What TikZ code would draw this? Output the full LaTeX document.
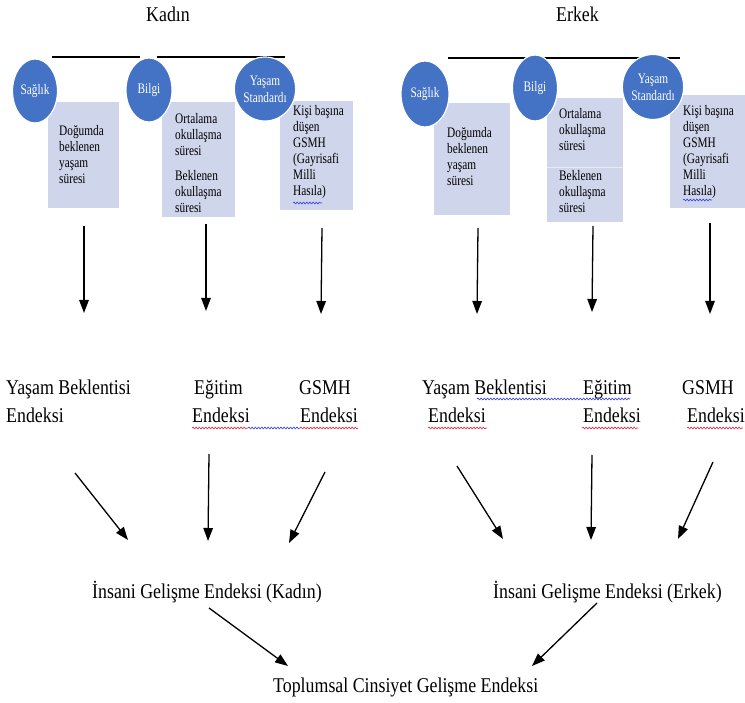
\documentclass[tikz,border=0pt]{standalone}
\usepackage{fontspec}
\setmainfont{Liberation Serif}
\newfontfamily\bigf[FakeStretch=0.85]{Liberation Serif}
\newfontfamily\smallf[FakeStretch=0.78]{Liberation Serif}
\usetikzlibrary{arrows.meta,shapes.geometric,decorations.pathmorphing}
\definecolor{circblue}{RGB}{68,114,196}
\definecolor{boxfill}{RGB}{207,213,234}
\definecolor{sqred}{RGB}{220,40,60}
\definecolor{sqblue}{RGB}{50,60,230}
\begin{document}
\begin{tikzpicture}[x=1pt,y=-1pt,
  circ/.style={ellipse,fill=circblue,draw=white,line width=1.2pt,inner sep=0pt,
     text=white,align=center,font=\smallf\fontsize{14.5}{17}\selectfont},
  boxbg/.style={fill=boxfill,draw=none,inner sep=0pt,anchor=north west},
  boxtext/.style={anchor=north west,inner sep=0pt,align=left,
     font=\smallf\fontsize{14.5}{16}\selectfont},
  bigtext/.style={anchor=base west,inner sep=0pt,font=\bigf\fontsize{21}{27}\selectfont},
  topline/.style={line width=1.2pt},
  arr/.style={line width=1.3pt,-{Triangle[length=13pt,width=9.5pt]}},
  sqr/.style={draw=sqred,line width=0.6pt,decorate,decoration={snake,amplitude=0.9pt,segment length=3.2pt}},
  sqb/.style={draw=sqblue,line width=0.6pt,decorate,decoration={snake,amplitude=0.9pt,segment length=3.2pt}}
]
\useasboundingbox (0,0) rectangle (745,703);

% titles
\node[bigtext] (tk) at (146,22) {Kadın};
\node[bigtext] (te) at (556,22) {Erkek};

% top lines
\coordinate (l1a) at (52,57); \coordinate (l1b) at (140,57);
\coordinate (l2a) at (157,57); \coordinate (l2b) at (285,57);
\coordinate (l3a) at (448,58); \coordinate (l3b) at (680,58);
\draw[topline] (l1a) -- (l1b);
\draw[topline] (l2a) -- (l2b);
\draw[topline] (l3a) -- (l3b);

% ---------- Kadın boxes ----------
\node[boxbg,minimum width=71pt,minimum height=106pt] (kb1) at (48,102) {};
\node[boxbg,minimum width=73pt,minimum height=115pt] (kb2) at (162,102) {};
\node[boxbg,minimum width=73pt,minimum height=109pt] (kb3) at (280,101) {};
\node[boxtext] (kt1) at (59,125) {Doğumda\\beklenen\\yaşam\\süresi};
\node[boxtext] (kt2) at (175,113) {Ortalama\\okullaşma\\süresi};
\node[boxtext] (kt2b) at (175,170) {Beklenen\\okullaşma\\süresi};
\node[boxtext] (kt3) at (293,105) {Kişi başına\\düşen\\GSMH\\(Gayrisafi\\Milli\\Hasıla)};

% Kadın circles
\node[circ,minimum width=45pt,minimum height=64pt] (kc1) at (35,91) {Sağlık};
\node[circ,minimum width=46pt,minimum height=64pt] (kc2) at (149,90) {Bilgi};
\node[circ,minimum width=60pt,minimum height=64pt] (kc3) at (265,89) {Yaşam\\Standardı};

% ---------- Erkek boxes ----------
\node[boxbg,minimum width=76pt,minimum height=112pt] (eb1) at (434,103) {};
\node[boxbg,minimum width=76pt,minimum height=69pt] (eb2) at (547,98) {};
\node[boxbg,minimum width=76pt,minimum height=55pt] (eb2b) at (547,167) {};
\draw[white!50!boxfill,line width=0.5pt] (eb2.south west) -- (eb2.south east);
\node[boxbg,minimum width=75pt,minimum height=113pt] (eb3) at (670,95) {};
\node[boxtext] (et1) at (447,127) {Doğumda\\beklenen\\yaşam\\süresi};
\node[boxtext] (et2) at (559,108) {Ortalama\\okullaşma\\süresi};
\node[boxtext] (et2b) at (559,170) {Beklenen\\okullaşma\\süresi};
\node[boxtext] (et3) at (683,105) {Kişi başına\\düşen\\GSMH\\(Gayrisafi\\Milli\\Hasıla)};

% Erkek circles
\node[circ,minimum width=48pt,minimum height=66pt] (ec1) at (425,94) {Sağlık};
\node[circ,minimum width=45pt,minimum height=66pt] (ec2) at (535,88) {Bilgi};
\node[circ,minimum width=60pt,minimum height=65pt] (ec3) at (653,87) {Yaşam\\Standardı};

% Hasıla squiggles
\coordinate (hq1a) at (293,203); \coordinate (hq1b) at (322,203);
\coordinate (hq2a) at (683,200); \coordinate (hq2b) at (712,200);
\draw[sqb] (hq1a) -- (hq1b);
\draw[sqb] (hq2a) -- (hq2b);

% first row arrows
\coordinate (a1s) at (84,226); \coordinate (a1e) at (84,313);
\coordinate (a2s) at (206,224); \coordinate (a2e) at (206,311);
\coordinate (a3s) at (322,228); \coordinate (a3e) at (321,314);
\coordinate (a4s) at (478,228); \coordinate (a4e) at (477,314);
\coordinate (a5s) at (593,226); \coordinate (a5e) at (592,312);
\coordinate (a6s) at (710,223); \coordinate (a6e) at (710,314);
\foreach \i in {1,...,6} {\draw[arr] (a\i s) -- (a\i e);}

% index texts
\node[bigtext] (k1a) at (6,395) {Yaşam Beklentisi};
\node[bigtext] (k1b) at (6,423) {Endeksi};
\node[bigtext] (k2a) at (194,395) {Eğitim};
\node[bigtext] (k2b) at (192,423) {Endeksi};
\node[bigtext] (k3a) at (299,395) {GSMH};
\node[bigtext] (k3b) at (300,423) {Endeksi};
\node[bigtext] (e1a) at (422,395) {Yaşam Beklentisi};
\node[bigtext] (e1b) at (428,423) {Endeksi};
\node[bigtext] (e2a) at (583,395) {Eğitim};
\node[bigtext] (e2b) at (583,423) {Endeksi};
\node[bigtext] (e3a) at (682,395) {GSMH};
\node[bigtext] (e3b) at (687,423) {Endeksi};

% spelling squiggles
\coordinate (s1) at (192,428); \coordinate (s2) at (248,428);
\coordinate (s3) at (300,428); \coordinate (s4) at (358,428);
\draw[sqr] (s1) -- (s2);
\draw[sqb] (s2) -- (s3);
\draw[sqr] (s3) -- (s4);
\coordinate (s5) at (477,399); \coordinate (s6) at (630,399);
\draw[sqb] (s5) -- (s6);
\coordinate (s7) at (428,428); \coordinate (s8) at (487,428);
\coordinate (s9) at (582,428); \coordinate (s10) at (638,428);
\coordinate (s11) at (687,428); \coordinate (s12) at (743,428);
\draw[sqr] (s7) -- (s8);
\draw[sqr] (s9) -- (s10);
\draw[sqr] (s11) -- (s12);

% second row arrows
\coordinate (b1s) at (75,473); \coordinate (b1e) at (128,540);
\coordinate (b2s) at (209,454); \coordinate (b2e) at (208,541);
\coordinate (b3s) at (325,472); \coordinate (b3e) at (289,543);
\coordinate (b4s) at (457,466); \coordinate (b4e) at (503,539);
\coordinate (b5s) at (592,455); \coordinate (b5e) at (591,540);
\coordinate (b6s) at (713,462); \coordinate (b6e) at (678,539);
\foreach \i in {1,...,6} {\draw[arr] (b\i s) -- (b\i e);}

% HDI labels
\node[bigtext] (hk) at (92,598) {İnsani Gelişme Endeksi (Kadın)};
\node[bigtext] (he) at (493,598) {İnsani Gelişme Endeksi (Erkek)};

% final arrows
\coordinate (c1s) at (209,608); \coordinate (c1e) at (288,666);
\coordinate (c2s) at (597,603); \coordinate (c2e) at (532,666);
\draw[arr] (c1s) -- (c1e);
\draw[arr] (c2s) -- (c2e);

\node[bigtext] (tg) at (273,692) {Toplumsal Cinsiyet Gelişme Endeksi};
\end{tikzpicture}
\end{document}
